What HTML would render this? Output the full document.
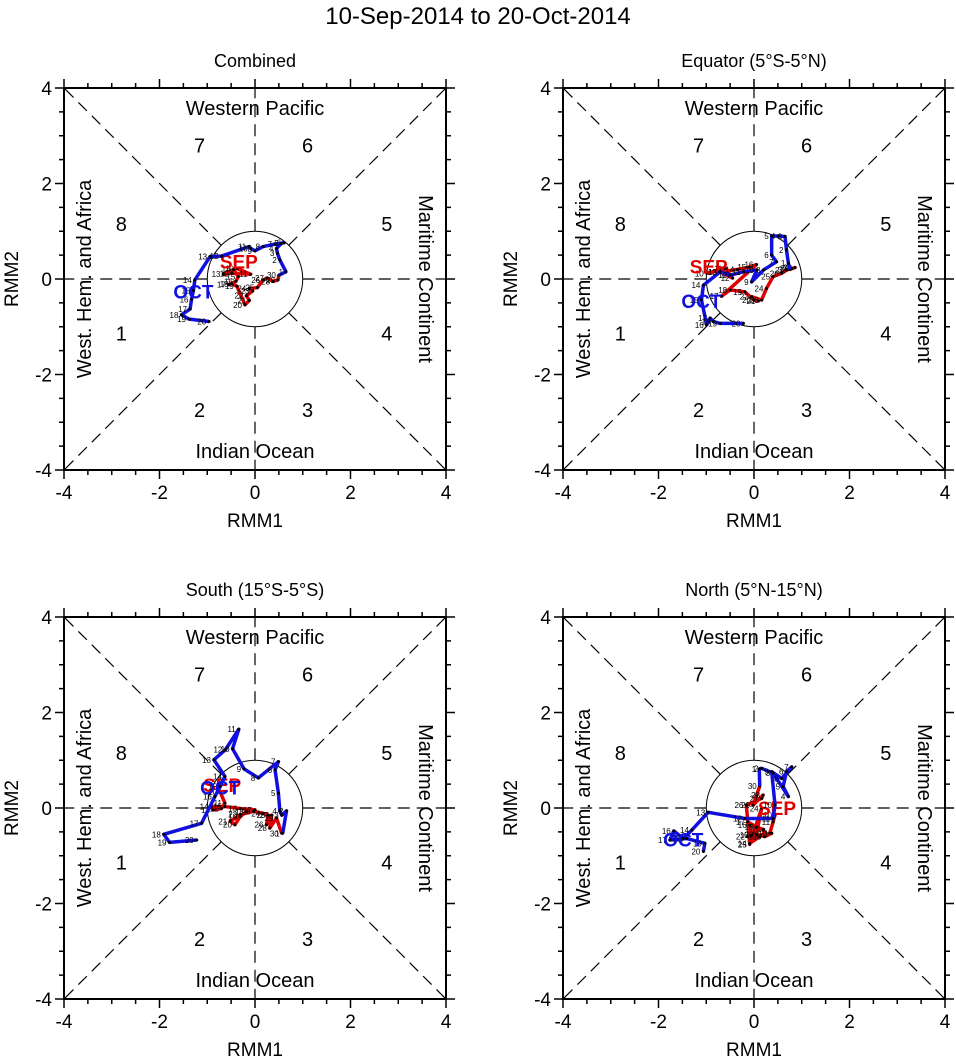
<!DOCTYPE html>
<html><head><meta charset="utf-8"><style>
html,body{margin:0;padding:0;background:#fff}
svg{display:block;font-family:"Liberation Sans",sans-serif}
</style></head><body>
<svg id="chart" width="956" height="1061" viewBox="0 0 956 1061" xmlns="http://www.w3.org/2000/svg">
<text x="478" y="24" text-anchor="middle" font-size="24">10-Sep-2014 to 20-Oct-2014</text>
</svg>
<script>
const panelTitles = ["Combined", "Equator (5°S-5°N)", "South (15°S-5°S)", "North (5°N-15°N)"];
const tickLabels = ["-4", "-2", "0", "2", "4"];
const tickValues = [-4, -2, 0, 2, 4];
const phaseLabels = ["1","2","3","4","5","6","7","8"];

// Combined
const sepDays1 = [10,11,12,13,14,15,16,17,18,19,20,21,22,23,24,25,26,27,28,29,30];
const sepR1a = [-0.38,-0.09,-0.49,-0.66,-0.45,-0.35,-0.40,-0.55,-0.49,-0.38,-0.21,-0.12,-0.18,-0.05,-0.12,0.05,0.17,0.25,0.38,0.48,0.50];
const sepR2a = [0.22,0.10,0.12,0.10,0.20,0.05,-0.05,-0.12,-0.10,-0.15,-0.54,-0.45,-0.35,-0.25,-0.20,-0.18,-0.02,0.02,-0.05,-0.02,0.08];
const octR1a = [0.65,0.52,0.47,0.45,0.56,0.61,0.42,0.17,0.00,-0.09,-0.12,-0.70,-0.94,-1.26,-1.29,-1.33,-1.36,-1.54,-1.38,-0.96];
const octR2a = [0.15,0.40,0.54,0.64,0.75,0.76,0.73,0.68,0.59,0.64,0.68,0.48,0.47,-0.02,-0.24,-0.43,-0.63,-0.75,-0.84,-0.89];
// Equator
const sepR1b = [-0.99,-0.60,-0.45,-0.72,-0.35,-0.10,0.05,-0.68,-0.50,-0.19,0.00,0.09,-0.05,0.16,0.26,0.40,0.58,0.69,0.79,0.86,0.75];
const sepR2b = [0.12,0.22,0.02,0.15,0.20,0.25,0.30,-0.36,-0.23,-0.27,-0.44,-0.46,-0.37,-0.44,-0.20,0.05,0.12,0.19,0.22,0.24,0.20];
const octR1b = [0.72,0.68,0.65,0.51,0.37,0.37,0.47,0.20,-0.05,0.06,-0.22,-0.50,-0.71,-1.06,-1.10,-0.99,-0.92,-0.85,-0.71,-0.22];
const octR2b = [0.33,0.61,0.89,0.90,0.90,0.50,0.36,0.19,-0.06,0.19,0.15,0.08,0.15,-0.13,-0.44,-0.96,-0.82,-0.89,-0.93,-0.93];
// South
const sepR1c = [-0.73,-0.63,-0.70,-0.88,-0.91,-0.63,-0.31,0.00,-0.17,-0.31,-0.42,-0.52,-0.31,-0.03,0.17,0.28,0.24,0.35,0.31,0.45,0.56];
const sepR2c = [0.34,0.10,-0.01,-0.04,0.03,0.03,-0.01,-0.04,-0.07,-0.18,-0.35,-0.28,-0.14,-0.07,-0.11,-0.15,-0.35,-0.15,-0.42,-0.21,-0.53];
const octR1c = [0.58,0.66,0.56,0.52,0.49,0.42,0.49,0.07,-0.23,-0.47,-0.34,-0.62,-0.86,-0.63,-0.73,-0.84,-1.12,-1.91,-1.79,-1.22];
const octR2c = [-0.53,-0.06,-0.15,-0.06,0.31,0.80,0.97,0.63,0.82,1.24,1.65,1.22,1.01,0.66,0.45,0.24,-0.32,-0.55,-0.72,-0.67];
// North
const sepR1d = [0.44,0.40,0.33,0.12,-0.09,-0.05,-0.09,-0.13,0.05,0.20,0.22,0.37,-0.13,0.05,0.16,-0.09,-0.16,0.16,0.19,-0.02,0.12];
const sepR2d = [-0.15,-0.29,-0.53,-0.60,-0.74,-0.57,-0.36,-0.29,-0.40,-0.45,-0.60,-0.53,-0.60,-0.55,-0.01,-0.76,0.06,0.20,0.27,0.06,0.46];
const octR1d = [0.11,0.16,0.40,0.72,0.61,0.68,0.79,0.58,0.37,0.44,0.40,-0.19,-0.96,-1.30,-1.48,-1.68,-1.76,-1.41,-1.03,-1.06];
const octR2d = [0.82,0.83,0.73,0.24,0.45,0.76,0.86,0.62,0.76,0.06,-0.22,-0.22,-0.09,-0.46,-0.64,-0.48,-0.67,-0.64,-0.74,-0.91];

const sepSeries = [[sepR1a,sepR2a],[sepR1b,sepR2b],[sepR1c,sepR2c],[sepR1d,sepR2d]];
const octSeries = [[octR1a,octR2a],[octR1b,octR2b],[octR1c,octR2c],[octR1d,octR2d]];

const NS = "http://www.w3.org/2000/svg";
const svg = document.getElementById('chart');
const panels = [[64,88],[563,88],[64,617],[563,617]];
const SIZE = 382, SC = SIZE/8;

function mk(tag, attrs, parent, text){
  const e = document.createElementNS(NS, tag);
  for (const k in attrs) e.setAttribute(k, attrs[k]);
  if (text !== undefined) e.textContent = text;
  parent.appendChild(e);
  return e;
}

panels.forEach((p, pi) => {
  const ox = p[0], oy = p[1];
  const xs = v => ox + (v + 4) * SC;
  const ys = v => oy + (4 - v) * SC;
  const cx = xs(0), cy = ys(0);
  const g = mk('g', {}, svg);
  
  

  const t = mk('text', {x: cx, y: oy - 21, 'text-anchor':'middle', 'font-size':18}, g, panelTitles[pi]);
  
  

  const dirs = [[1,0],[-1,0],[0,1],[0,-1],[1,1],[1,-1],[-1,1],[-1,-1]];
  dirs.forEach(d => {
    const len = Math.hypot(d[0], d[1]);
    const x1 = d[0]/len, y1 = d[1]/len;
    const l = mk('line', {x1: xs(x1), y1: ys(y1), x2: xs(4*d[0]), y2: ys(4*d[1]), stroke:'#000', 'stroke-width':1.2, 'stroke-dasharray':'12,7'}, g);
    
    
  });
  const c = mk('circle', {cx: cx, cy: cy, r: SC, fill:'none', stroke:'#000', 'stroke-width':1}, g);
  
  

  const fs = 20;
  const addT = (x, y, s, name, rot) => {
    const a = {x:x, y:y, 'text-anchor':'middle', 'font-size':fs, 'dominant-baseline':'middle'};
    if (rot) a.transform = 'rotate(' + rot + ' ' + x + ' ' + y + ')';
    const e = mk('text', a, g, s);
    
    
  };
  addT(cx, ys(3.55), 'Western Pacific', 'region-western-pacific');
  addT(cx, ys(-3.64), 'Indian Ocean', 'region-indian-ocean');
  addT(xs(-3.55), cy, 'West. Hem. and Africa', 'region-west-hem-africa', -90);
  addT(xs(3.55), cy, 'Maritime Continent', 'region-maritime-continent', 90);
  const phasePos = [[-2.8,-1.18],[-1.16,-2.78],[1.1,-2.78],[2.76,-1.18],[2.76,1.12],[1.1,2.76],[-1.16,2.76],[-2.8,1.12]];
  phaseLabels.forEach((s, i) => addT(xs(phasePos[i][0]), ys(phasePos[i][1]), s, 'phase-' + s));

  const fr = mk('rect', {x: ox, y: oy, width: SIZE, height: SIZE, fill:'none', stroke:'#000', 'stroke-width':2}, g);
  
  
  for (let v = -4; v <= 4.001; v += 0.5) {
    const maj = Math.abs(v % 2) < 0.01;
    const L = maj ? 9 : 5;
    mk('line', {x1: xs(v), y1: oy+SIZE, x2: xs(v), y2: oy+SIZE+L, stroke:'#000','stroke-width':1.5}, g);
    mk('line', {x1: xs(v), y1: oy, x2: xs(v), y2: oy-L, stroke:'#000','stroke-width':1.5}, g);
    mk('line', {x1: ox, y1: ys(v), x2: ox-L, y2: ys(v), stroke:'#000','stroke-width':1.5}, g);
    mk('line', {x1: ox+SIZE, y1: ys(v), x2: ox+SIZE+L, y2: ys(v), stroke:'#000','stroke-width':1.5}, g);
  }
  tickValues.forEach((v, i) => {
    const a = mk('text', {x: xs(v), y: oy+SIZE+29, 'text-anchor':'middle', 'font-size':19}, g, tickLabels[i]);
    
    
    const b = mk('text', {x: ox-12, y: ys(v)+7, 'text-anchor':'end', 'font-size':19}, g, tickLabels[i]);
    
    
  });
  const xt = mk('text', {x: cx, y: oy+SIZE+57, 'text-anchor':'middle', 'font-size':19}, g, 'RMM1');
  
  
  const ytx = ox - 46;
  const yt = mk('text', {x: ytx, y: cy, 'text-anchor':'middle', 'font-size':19, transform:'rotate(-90 ' + ytx + ' ' + cy + ')'}, g, 'RMM2');
  
  

  const drawSeries = (r1, r2, color, name, label, startDay, labelIdx, dx, dy) => {
    let pts = r1.map((v, i) => xs(v) + ',' + ys(r2[i])).join(' ');
    const pl = mk('polyline', {points: pts, fill:'none', stroke: color, 'stroke-width':3.5, 'stroke-linejoin':'round'}, g);
    
    
    r1.forEach((v, i) => {
      const d = mk('circle', {cx: xs(v), cy: ys(r2[i]), r: 1.5, fill:'#000'}, g);
      
      
      const tl = mk('text', {x: xs(v) - 3, y: ys(r2[i]) + 3, 'text-anchor':'end', 'font-size':8}, g, String(startDay + i));
      
      
    });
    const lb = mk('text', {x: xs(r1[labelIdx]) + dx, y: ys(r2[labelIdx]) + dy, 'text-anchor':'middle', 'font-size':19, 'font-weight':'bold', fill: color}, g, label);
    
    
  };
  const s = sepSeries[pi], o = octSeries[pi];
  drawSeries(s[0], s[1], '#e00000', 'september', 'SEP', sepDays1[0], 0, 2, 0);
  const bridge = mk('line', {x1: xs(s[0][s[0].length-1]), y1: ys(s[1][s[1].length-1]), x2: xs(o[0][0]), y2: ys(o[1][0]), stroke:'#1010e0','stroke-width':3.5}, g);
  
  
  drawSeries(o[0], o[1], '#1010e0', 'october', 'OCT', 1, 14, 0, 8);
});
</script>
</body></html>
